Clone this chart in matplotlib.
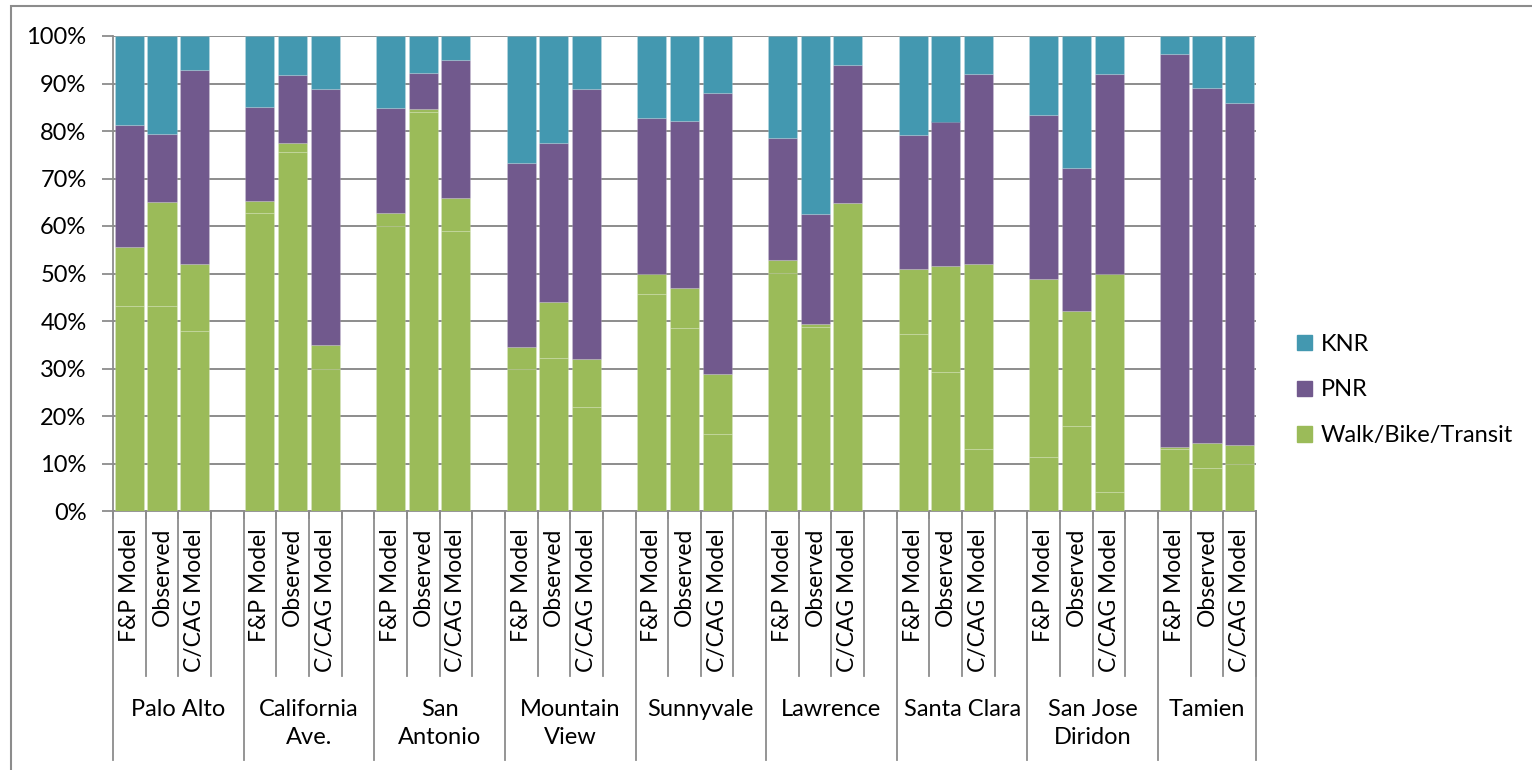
import matplotlib.pyplot as plt
from matplotlib.patches import Patch, Rectangle
from matplotlib.lines import Line2D

plt.rcParams['font.family'] = ['Lato', 'DejaVu Sans']

stations = ['Palo Alto', 'California\nAve.', 'San\nAntonio', 'Mountain\nView', 'Sunnyvale',
            'Lawrence', 'Santa Clara', 'San Jose\nDiridon', 'Tamien']
sources = ['F&P Model', 'Observed', 'C/CAG Model']

# cumulative tops of each stack (%); order per station: F&P, Observed, C/CAG
wbt_split = [43.1, 43.1, 37.8, 62.7, 75.6, 29.8, 60.0, 84.0, 58.9,
             29.8, 32.3, 21.9, 45.7, 38.5, 16.2, 50.1, 38.7, 64.9,
             37.2, 29.3, 13.0, 11.4, 17.9, 4.0, 13.0, 9.1, 9.8]
wbt_top = [55.6, 65.1, 51.9, 65.2, 77.4, 34.9, 62.7, 84.6, 65.9,
           34.5, 44.0, 31.9, 49.9, 46.9, 28.9, 52.8, 39.4, 64.9,
           50.9, 51.6, 51.9, 48.8, 42.2, 49.8, 13.5, 14.4, 13.9]
pnr_top = [81.3, 79.4, 92.8, 85.1, 91.7, 88.8, 84.9, 92.3, 94.9,
           73.2, 77.5, 88.8, 82.8, 82.2, 87.9, 78.5, 62.5, 93.9,
           79.1, 82.0, 91.9, 83.4, 72.3, 91.9, 96.3, 89.0, 85.8]

green = '#9BBB59'
purple = '#71598D'
teal = '#4398B0'
grey = '#8C8C8C'

fig = plt.figure(figsize=(15.32, 7.70), dpi=100)
W, H = 1532, 770
ax = fig.add_axes([113 / W, 1 - 511 / H, (1256 - 113) / W, (511 - 36) / H])

xs = []
for g in range(len(stations)):
    for b in range(3):
        xs.append(g * 4 + b + 0.5)

edge = dict(edgecolor=(1, 1, 1, 0.15), linewidth=0.8, zorder=3)
wbt_hi = [t - s for t, s in zip(wbt_top, wbt_split)]
pnr = [p - w for p, w in zip(pnr_top, wbt_top)]
knr = [100 - p for p in pnr_top]
ax.bar(xs, wbt_split, width=0.89, color=green, **edge)
ax.bar(xs, wbt_hi, width=0.89, bottom=wbt_split, color=green, **edge)
ax.bar(xs, pnr, width=0.89, bottom=wbt_top, color=purple, **edge)
ax.bar(xs, knr, width=0.89, bottom=pnr_top, color=teal, **edge)

n_slots = len(stations) * 4 - 1
ax.set_xlim(0, n_slots)
ax.set_ylim(0, 100)
ax.set_yticks(range(0, 101, 10))
ax.set_yticklabels([f'{v}%' for v in range(0, 101, 10)], fontsize=17)
ax.set_xticks(range(n_slots + 1))
ax.set_xticklabels([])
ax.tick_params(axis='y', length=8, width=1.3, color=grey, pad=11)
ax.tick_params(axis='x', length=6, width=1.3, color=grey)
ax.yaxis.grid(True, color=grey, linewidth=1.4)
ax.set_axisbelow(True)
for s in ['top', 'right']:
    ax.spines[s].set_visible(False)
for s in ['left', 'bottom']:
    ax.spines[s].set_color(grey)
    ax.spines[s].set_linewidth(1.3)

# two-level category axis
ax_h = 511 - 36
tr = ax.get_xaxis_transform()
def yfrac(py):
    return -(py - 511) / ax_h

for g, name in enumerate(stations):
    start = g * 4
    for b, src in enumerate(sources):
        ax.text(start + b + 0.5, yfrac(528), src, rotation=90, ha='center', va='top',
                fontsize=16.5, transform=tr)
    for k in range(1, 4):
        ax.add_line(Line2D([start + k, start + k], [0, yfrac(676)], transform=tr,
                           color=grey, lw=1.3, clip_on=False))
    end = min(start + 4, n_slots)
    ax.text((start + end) / 2, yfrac(699), name, ha='center', va='top', fontsize=17,
            linespacing=1.42, transform=tr)
for g in range(len(stations) + 1):
    xg = min(g * 4, n_slots)
    ax.add_line(Line2D([xg, xg], [0, yfrac(760)], transform=tr,
                       color=grey, lw=1.3, clip_on=False))

handles = [Patch(color=teal, label='KNR'), Patch(color=purple, label='PNR'),
           Patch(color=green, label='Walk/Bike/Transit')]
fig.legend(handles=handles, loc='center left', bbox_to_anchor=(1297 / W, 1 - 390 / H),
           frameon=False, fontsize=17, handlelength=0.62, handleheight=0.62,
           handletextpad=0.4, labelspacing=1.05, borderpad=0, borderaxespad=0)

# chart area border (left and top edges visible)
fig.add_artist(Rectangle((11 / W, -0.2), 1.5, 1.2 - 6 / H, transform=fig.transFigure,
                         fill=False, edgecolor=grey, linewidth=1.5))

fig.savefig('out.png', dpi=100)
